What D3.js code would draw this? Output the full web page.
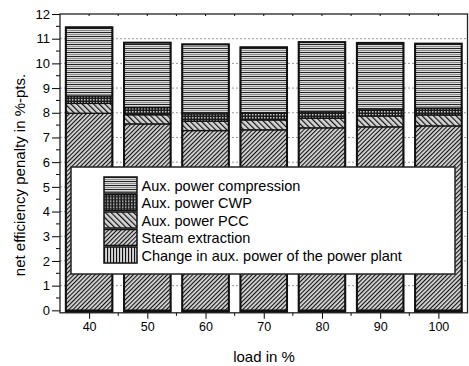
<!DOCTYPE html>
<html>
<head>
<meta charset="utf-8">
<script src="https://cdn.jsdelivr.net/npm/d3@7/dist/d3.min.js"></script>
<style>
  html, body { margin: 0; padding: 0; background: #fff; }
  svg text { font-family: "Liberation Sans", Arial, sans-serif; fill: #000; }
</style>
</head>
<body>
<svg id="chart" width="469" height="366"></svg>
<script>
// Load cases (%)
const loads = [40, 50, 60, 70, 80, 90, 100];

// Efficiency penalty contributions in %-pts.
const steamExtraction    = [7.98, 7.55, 7.28, 7.31, 7.39, 7.43, 7.47];
const auxPowerPCC        = [0.40, 0.37, 0.38, 0.40, 0.39, 0.44, 0.44];
const auxPowerCWP        = [0.30, 0.29, 0.30, 0.27, 0.26, 0.25, 0.28];
const auxPowerCompression= [2.78, 2.63, 2.81, 2.67, 2.82, 2.71, 2.61];
const changeAuxPowerPlant= [-0.06, -0.06, -0.06, -0.06, -0.06, -0.06, -0.06];

const yTicks = [0, 1, 2, 3, 4, 5, 6, 7, 8, 9, 10, 11, 12];
const xTicks = [40, 50, 60, 70, 80, 90, 100];

const seriesNames = [
  "Aux. power compression",
  "Aux. power CWP",
  "Aux. power PCC",
  "Steam extraction",
  "Change in aux. power of the power plant"
];

const svg = d3.select("#chart");
const margin = { left: 60, right: 1.5, top: 14, bottom: 53.2 };
const W = 469, H = 366;

const x = d3.scaleLinear().domain([35, 105]).range([margin.left, W - margin.right]);
const y = d3.scaleLinear().domain([-0.1, 12]).range([H - margin.bottom, margin.top]);

// ---- fill patterns ----
const defs = svg.append("defs");

function stripePattern(id, size, angle, bg, lineW) {
  const p = defs.append("pattern")
    .attr("id", id).attr("patternUnits", "userSpaceOnUse")
    .attr("width", size).attr("height", size)
    .attr("patternTransform", `rotate(${angle})`);
  p.append("rect").attr("width", size).attr("height", size).attr("fill", bg);
  p.append("rect").attr("width", lineW).attr("height", size).attr("fill", "#111");
}
stripePattern("pat-steam", 3, 45, "#d6d6d6", 1.1);
stripePattern("pat-pcc", 4, -45, "#d6d6d6", 1.2);
stripePattern("pat-change", 3, 0, "#d6d6d6", 1.1);

// horizontal banding for compression
const pc = defs.append("pattern").attr("id", "pat-comp")
  .attr("patternUnits", "userSpaceOnUse").attr("width", 4).attr("height", 4);
pc.append("rect").attr("width", 4).attr("height", 4).attr("fill", "#dcdcdc");
pc.append("rect").attr("y", 0).attr("width", 4).attr("height", 1).attr("fill", "#222");
pc.append("rect").attr("y", 2).attr("width", 4).attr("height", 1).attr("fill", "#8a8a8a");

// dark checker for CWP
const pw = defs.append("pattern").attr("id", "pat-cwp")
  .attr("patternUnits", "userSpaceOnUse").attr("width", 3).attr("height", 3);
pw.append("rect").attr("width", 3).attr("height", 3).attr("fill", "#1c1c1c");
pw.append("rect").attr("x", 0).attr("y", 0).attr("width", 1.5).attr("height", 1.5).attr("fill", "#c8c8c8");

const patternOf = {
  "Aux. power compression": "url(#pat-comp)",
  "Aux. power CWP": "url(#pat-cwp)",
  "Aux. power PCC": "url(#pat-pcc)",
  "Steam extraction": "url(#pat-steam)",
  "Change in aux. power of the power plant": "url(#pat-change)"
};

// ---- grid lines ----
svg.append("g").selectAll("line")
  .data(yTicks.filter(v => v > 0 && v < 12))
  .join("line")
  .attr("x1", x(35)).attr("x2", x(105))
  .attr("y1", d => y(d)).attr("y2", d => y(d))
  .attr("stroke", "#9a9a9a").attr("stroke-width", 1)
  .attr("stroke-dasharray", "2,2");

// ---- stacked bars ----
const stackRows = loads.map((l, i) => ({
  load: l,
  segs: [
    { name: "Steam extraction", y0: 0, y1: steamExtraction[i] },
    { name: "Aux. power PCC", y0: steamExtraction[i], y1: steamExtraction[i] + auxPowerPCC[i] },
    { name: "Aux. power CWP", y0: steamExtraction[i] + auxPowerPCC[i],
      y1: steamExtraction[i] + auxPowerPCC[i] + auxPowerCWP[i] },
    { name: "Aux. power compression", y0: steamExtraction[i] + auxPowerPCC[i] + auxPowerCWP[i],
      y1: steamExtraction[i] + auxPowerPCC[i] + auxPowerCWP[i] + auxPowerCompression[i] },
    { name: "Change in aux. power of the power plant", y0: changeAuxPowerPlant[i], y1: 0 }
  ]
}));

const barHalf = 4; // bar width of 8 load units
const bars = svg.append("g").selectAll("g").data(stackRows).join("g");
bars.selectAll("rect.seg")
  .data(d => d.segs.map(s => ({ ...s, load: d.load })))
  .join("rect")
  .attr("class", "seg")
  .attr("x", d => x(d.load - barHalf))
  .attr("width", d => x(d.load + barHalf) - x(d.load - barHalf))
  .attr("y", d => y(d.y1))
  .attr("height", d => Math.max(1, y(d.y0) - y(d.y1)))
  .attr("fill", d => patternOf[d.name])
  .attr("stroke", "#111").attr("stroke-width", 1.3);

bars.append("rect")
  .attr("x", d => x(d.load - barHalf))
  .attr("width", d => x(d.load + barHalf) - x(d.load - barHalf))
  .attr("y", d => y(d3.max(d.segs, s => s.y1)))
  .attr("height", d => y(d3.min(d.segs, s => s.y0)) - y(d3.max(d.segs, s => s.y1)))
  .attr("fill", "none").attr("stroke", "#111").attr("stroke-width", 2);

// ---- axes ----
const xAxis = d3.axisBottom(x).tickValues(xTicks).tickSize(6).tickPadding(3).tickFormat(d3.format("d"));
const gx = svg.append("g").attr("transform", `translate(0,${y(-0.1)})`).call(xAxis);
gx.select(".domain").remove();
gx.selectAll("text").attr("font-size", 12.5).attr("font-family", "Liberation Sans, Arial, sans-serif");
gx.selectAll("line").attr("stroke", "#000");

// minor x ticks
svg.append("g").selectAll("line")
  .data(d3.range(45, 105, 10))
  .join("line")
  .attr("x1", d => x(d)).attr("x2", d => x(d))
  .attr("y1", y(-0.1)).attr("y2", y(-0.1) + 3)
  .attr("stroke", "#000");

const yAxis = d3.axisLeft(y).tickValues(yTicks).tickSize(8).tickPadding(2).tickFormat(d3.format("d"));
const gy = svg.append("g").attr("transform", `translate(${x(35)},0)`).call(yAxis);
gy.select(".domain").remove();
gy.selectAll("text").attr("font-size", 13).attr("font-family", "Liberation Sans, Arial, sans-serif");
gy.selectAll("line").attr("stroke", "#000");

// minor y ticks
svg.append("g").selectAll("line")
  .data(d3.range(0.5, 12, 1))
  .join("line")
  .attr("x1", x(35) - 4).attr("x2", x(35))
  .attr("y1", d => y(d)).attr("y2", d => y(d))
  .attr("stroke", "#000");

// top ticks (inward)
svg.append("g").selectAll("line")
  .data(d3.range(40, 105, 5))
  .join("line")
  .attr("x1", d => x(d)).attr("x2", d => x(d))
  .attr("y1", y(12)).attr("y2", y(12) + 2)
  .attr("stroke", "#000");

// frame
svg.append("rect")
  .attr("x", x(35)).attr("y", y(12))
  .attr("width", x(105) - x(35)).attr("height", y(-0.1) - y(12))
  .attr("fill", "none").attr("stroke", "#222").attr("stroke-width", 1.3);

// ---- axis titles ----
svg.append("text")
  .attr("x", 264).attr("y", 361.5)
  .attr("text-anchor", "middle").attr("font-size", 15)
  .text("load in %");

svg.append("text")
  .attr("transform", "translate(25,175) rotate(-90)")
  .attr("text-anchor", "middle").attr("font-size", 15)
  .text("net efficiency penalty in %-pts.");

// ---- legend ----
const lg = svg.append("g");
lg.append("rect")
  .attr("x", 71).attr("y", 167).attr("width", 384).attr("height", 107)
  .attr("fill", "#fff").attr("stroke", "#222").attr("stroke-width", 1.5);

const rows = lg.selectAll("g").data(seriesNames).join("g")
  .attr("transform", (d, i) => `translate(104,${177 + i * 17.5})`);
rows.append("rect")
  .attr("width", 33).attr("height", 16)
  .attr("fill", d => patternOf[d])
  .attr("stroke", "#111").attr("stroke-width", 1.5);
rows.append("text")
  .attr("x", 37.5).attr("y", 8.5)
  .attr("dy", "0.35em")
  .attr("font-size", 14.5)
  .text(d => d);
</script>
</body>
</html>
